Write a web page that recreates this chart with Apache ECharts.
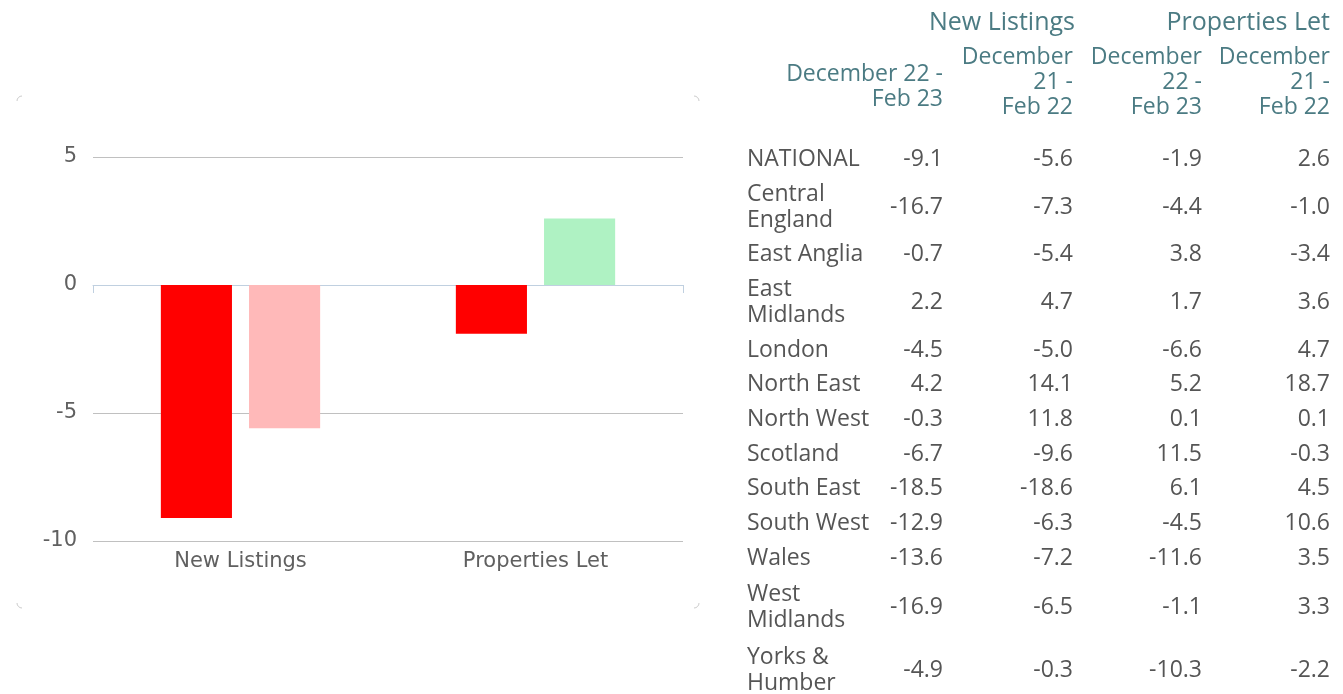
<!DOCTYPE html>
<html>
<head>
<meta charset="utf-8">
<script src="https://cdn.jsdelivr.net/npm/echarts@6/dist/echarts.min.js"></script>
<style>
  html, body { margin: 0; padding: 0; background: #fff; }
  #chart { position: absolute; left: 0; top: 0; width: 1343px; height: 694px; }
  .hdr { position: absolute; font-family: "Open Sans", sans-serif; color: #4b7b83; text-align: right; white-space: nowrap; }
  .title { font-size: 25px; line-height: 30px; }
  .sub { font-size: 23px; line-height: 25px; }
  #tbl { position: absolute; left: 747px; top: 139.5px; border-collapse: collapse; table-layout: fixed;
         font-family: "Open Sans", sans-serif; font-size: 23px; line-height: 26px; color: #555; }
  #tbl td { padding: 4.35px 0; vertical-align: middle; text-align: right; }
  #tbl td.lbl { text-align: left; }
  #tbl tr.tall td { padding: 5.5px 0; }
</style>
</head>
<body>
<div id="chart"></div>
<div id="table-area"></div>
<script>
// ---- chart data ----
const categories = ['New Listings', 'Properties Let'];
const periodCurrent = [-9.1, -1.9];   // December 22 - Feb 23 (National)
const periodPrevious = [-5.6, 2.6];   // December 21 - Feb 22 (National)
const yTicks = [-10, -5, 0, 5];

// ---- table data ----
const groupTitles = ['New Listings', 'Properties Let'];
const columnHeaders = [
  ['December 22 -', 'Feb 23'],
  ['December', '21 -', 'Feb 22'],
  ['December', '22 -', 'Feb 23'],
  ['December', '21 -', 'Feb 22']
];
const regions = ['NATIONAL', 'Central England', 'East Anglia', 'East Midlands', 'London', 'North East',
  'North West', 'Scotland', 'South East', 'South West', 'Wales', 'West Midlands', 'Yorks & Humber'];
const newListingsCurrent = [-9.1, -16.7, -0.7, 2.2, -4.5, 4.2, -0.3, -6.7, -18.5, -12.9, -13.6, -16.9, -4.9];
const newListingsPrevious = [-5.6, -7.3, -5.4, 4.7, -5.0, 14.1, 11.8, -9.6, -18.6, -6.3, -7.2, -6.5, -0.3];
const propertiesLetCurrent = [-1.9, -4.4, 3.8, 1.7, -6.6, 5.2, 0.1, 11.5, 6.1, -4.5, -11.6, -1.1, -10.3];
const propertiesLetPrevious = [2.6, -1.0, -3.4, 3.6, 4.7, 18.7, 0.1, -0.3, 4.5, 10.6, 3.5, 3.3, -2.2];

// ---- build table ----
(function () {
  const area = document.getElementById('table-area');
  const titleRight = [1075, 1330];
  groupTitles.forEach((t, i) => {
    const d = document.createElement('div');
    d.className = 'hdr title';
    d.textContent = t;
    d.style.right = (1343 - titleRight[i]) + 'px';
    d.style.top = '5px';
    area.appendChild(d);
  });
  const colRight = [943, 1073, 1202, 1330];
  columnHeaders.forEach((lines, i) => {
    const d = document.createElement('div');
    d.className = 'hdr sub';
    d.innerHTML = lines.map(s => s.replace(/&/g, '&amp;')).join('<br>');
    d.style.right = (1343 - colRight[i]) + 'px';
    d.style.top = (lines.length === 2 ? 59.5 : 42.5) + 'px';
    area.appendChild(d);
  });
  const tbl = document.createElement('table');
  tbl.id = 'tbl';
  const cg = document.createElement('colgroup');
  [140, 56, 130, 129, 128].forEach(w => {
    const c = document.createElement('col');
    c.style.width = w + 'px';
    cg.appendChild(c);
  });
  tbl.appendChild(cg);
  const fmt = v => v.toFixed(1);
  regions.forEach((r, i) => {
    const tr = document.createElement('tr');
    if (i >= regions.length - 2) tr.className = 'tall';
    const cells = [r, fmt(newListingsCurrent[i]), fmt(newListingsPrevious[i]),
      fmt(propertiesLetCurrent[i]), fmt(propertiesLetPrevious[i])];
    cells.forEach((c, j) => {
      const td = document.createElement('td');
      if (j === 0) td.className = 'lbl';
      td.textContent = c;
      tr.appendChild(td);
    });
    tbl.appendChild(tr);
  });
  area.appendChild(tbl);
})();

// ---- chart ----
const chart = echarts.init(document.getElementById('chart'), null, { renderer: 'canvas' });
const colorCurrent = v => (v < 0 ? '#ff0000' : '#33cc66');
const colorPrevious = v => (v < 0 ? '#ffb9b9' : '#aff2c3');

function arc(cx, cy, a0, a1) {
  return { type: 'arc', silent: true,
    shape: { cx: cx, cy: cy, r: 5, startAngle: a0, endAngle: a1 },
    style: { stroke: '#cccccc', fill: null, lineWidth: 1 } };
}

chart.setOption({
  animation: false,
  backgroundColor: '#fff',
  grid: { left: 93, right: 660, top: 157, bottom: 153, containLabel: false },
  xAxis: {
    type: 'category',
    data: categories,
    axisLine: { show: true, lineStyle: { color: '#c0d0e0', width: 1 } },
    axisTick: { show: true, length: 8, lineStyle: { color: '#c0d0e0' },
      interval: function (idx) { return idx !== 0; } },
    axisLabel: { color: '#606060', fontSize: 21, fontFamily: 'DejaVu Sans', margin: 10 },
    splitLine: { show: false }
  },
  yAxis: {
    type: 'value',
    min: yTicks[0],
    max: yTicks[yTicks.length - 1],
    interval: 5,
    axisLine: { show: false },
    axisTick: { show: false },
    axisLabel: { color: '#606060', fontSize: 21, fontFamily: 'DejaVu Sans', margin: 16 },
    splitLine: { show: true, lineStyle: { color: '#c0c0c0', width: 1 } }
  },
  series: [
    {
      type: 'bar',
      name: 'December 22 - Feb 23',
      data: periodCurrent.map(v => ({ value: v, itemStyle: { color: colorCurrent(v) } })),
      barCategoryGap: '46%',
      barGap: '24%'
    },
    {
      type: 'bar',
      name: 'December 21 - Feb 22',
      data: periodPrevious.map(v => ({ value: v, itemStyle: { color: colorPrevious(v) } })),
      barCategoryGap: '46%',
      barGap: '24%'
    }
  ],
  graphic: [
    arc(22, 101, Math.PI, Math.PI * 1.5),
    arc(694, 101, Math.PI * 1.5, Math.PI * 2),
    arc(22, 603, Math.PI * 0.5, Math.PI),
    arc(694, 603, 0, Math.PI * 0.5)
  ]
});
</script>
</body>
</html>
